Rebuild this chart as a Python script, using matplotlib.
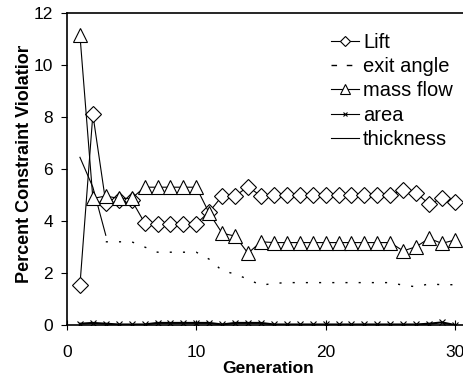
import numpy as np
import matplotlib
matplotlib.use("Agg")
import matplotlib.pyplot as plt
from matplotlib.transforms import Bbox

plt.rcParams['font.family'] = ['Liberation Sans', 'DejaVu Sans']

generation = np.arange(1, 31)
lift = [1.53, 8.1, 4.7, 4.8, 4.8, 3.93, 3.9, 3.9, 3.9, 3.9,
        4.35, 4.96, 4.96, 5.32, 4.96, 5.0, 5.0, 5.0, 5.0, 5.0,
        5.0, 5.0, 5.0, 5.0, 5.0, 5.19, 5.09, 4.65, 4.87, 4.72]
exit_angle = [np.nan, np.nan, 3.2, 3.2, 3.2, 3.0, 2.8, 2.8, 2.8, 2.8,
              2.53, 2.09, 1.96, 1.76, 1.53, 1.6, 1.63, 1.63, 1.63, 1.63,
              1.63, 1.63, 1.63, 1.63, 1.63, 1.53, 1.47, 1.58, 1.55, 1.55]
mass_flow = [11.15, 4.87, 4.96, 4.87, 4.87, 5.3, 5.3, 5.3, 5.3, 5.3,
             4.3, 3.53, 3.42, 2.76, 3.2, 3.17, 3.17, 3.17, 3.17, 3.17,
             3.17, 3.17, 3.17, 3.17, 3.17, 2.85, 3.01, 3.33, 3.14, 3.27]
area = [0.05, 0.08, 0.05, 0.02, 0.02, 0.02, 0.08, 0.08, 0.08, 0.08,
        0.08, 0.02, 0.08, 0.08, 0.08, 0.02, 0.02, 0.02, 0.02, 0.02,
        0.02, 0.02, 0.02, 0.02, 0.02, 0.02, 0.02, 0.05, 0.1, 0.0]
thickness = [6.45, 5.3, 3.45] + [np.nan] * 27

fig = plt.figure(figsize=(4.64, 3.79), dpi=100)
ax = fig.add_axes([67 / 464, 1 - 325 / 379, 31 * 12.93 / 464, 312 / 379])

lw = 0.8
ax.plot(generation, lift, color='black', lw=lw, marker='D', ms=8,
        mfc='white', mec='black', mew=0.8, label='Lift', zorder=3)
ax.plot(generation, exit_angle, color='black', lw=1.0,
        linestyle=(0, (1.5, 8)), label='exit angle')
ax.plot(generation, mass_flow, color='black', lw=lw, marker='^', ms=10,
        mfc='white', mec='black', mew=0.8, label='mass flow', zorder=3)
ax.plot(generation, area, color='black', lw=1.5, marker='x', ms=4,
        mew=0.8, label='area')
ax.plot(generation, thickness, color='black', lw=lw, label='thickness')

ax.set_xlim(0, 31)
ax.set_ylim(0, 12)
ax.set_xticks([0, 10, 20, 30])
ax.set_yticks(range(0, 13, 2))
ax.spines['right'].set_visible(False)
ax.tick_params(axis='y', direction='out', length=4, width=0.8, pad=6,
               labelsize=12.5)
ax.tick_params(axis='x', direction='inout', length=7, width=0.8, pad=11,
               labelsize=12.5)
for s in ax.spines.values():
    s.set_linewidth(1.2)

leg = ax.legend(loc='upper left', bbox_to_anchor=(331 / 464, 1 - 33 / 379),
                bbox_transform=fig.transFigure, frameon=False, fontsize=14.5,
                handlelength=1.4, handletextpad=0.2, labelspacing=0.26,
                borderpad=0, borderaxespad=0, markerscale=0.65)
leg.legend_handles[1].set_dashes([4, 7])
leg.legend_handles[3].set_linewidth(0.8)

fig.text(268 / 464, 1 - 373 / 379, 'Generation', ha='center', va='baseline',
         fontsize=12.5, fontweight='bold')
ylab = fig.text(25 / 464, 1 - 283 / 379, 'Percent Constraint Violation',
                ha='center', va='bottom', rotation=90, fontsize=13,
                fontweight='bold')
ylab.set_clip_box(Bbox([[0, 0], [464, 379 - 46]]))

fig.savefig('out.png', dpi=100)
